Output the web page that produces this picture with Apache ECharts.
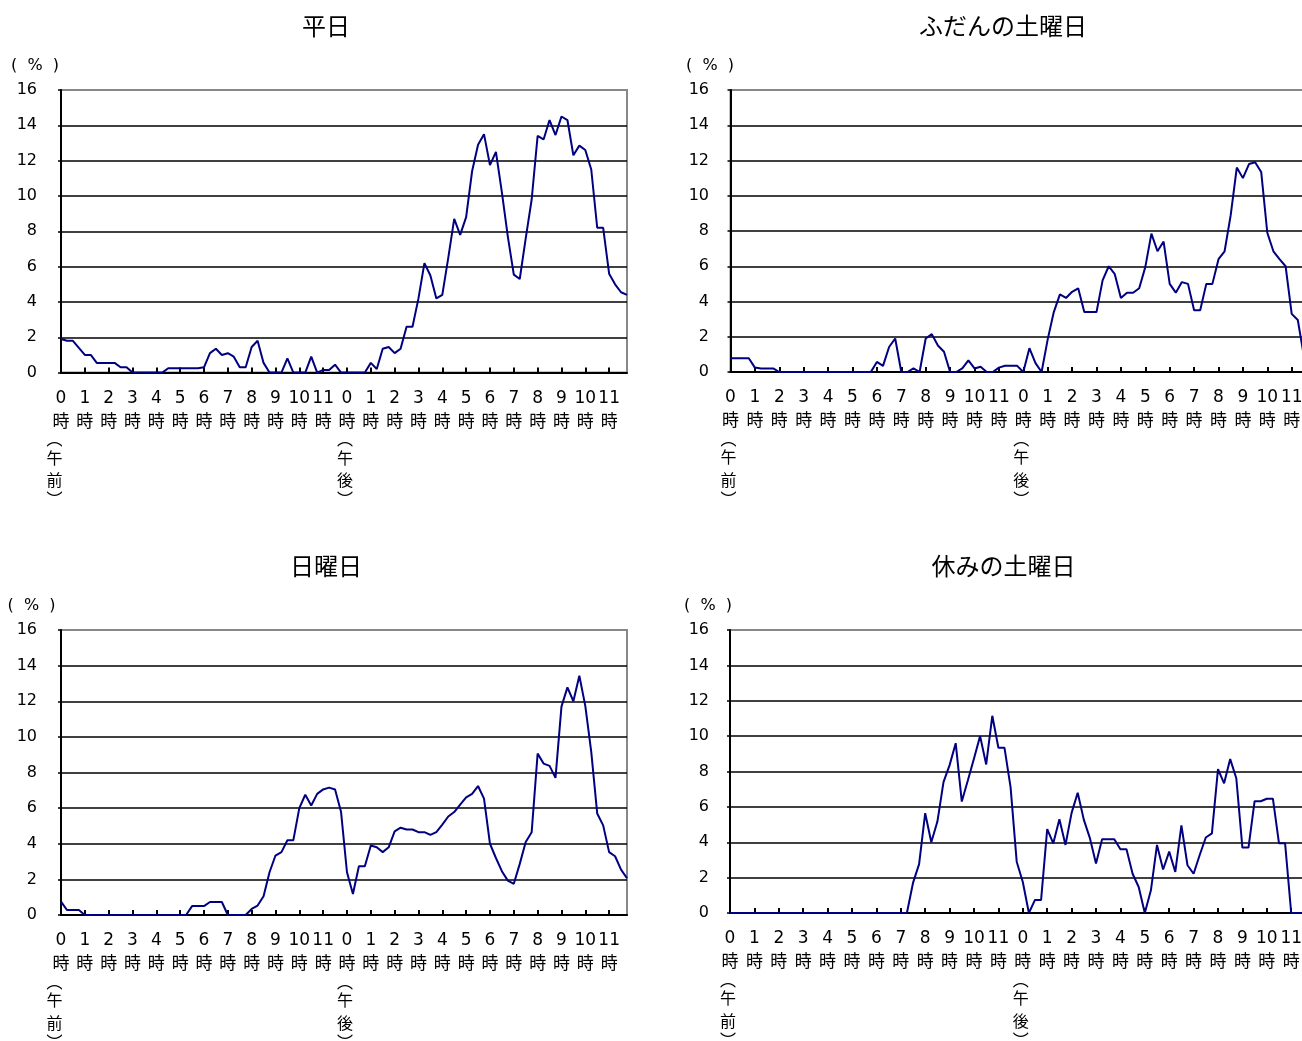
<!DOCTYPE html>
<html><head><meta charset="utf-8">
<script src="https://cdn.jsdelivr.net/npm/echarts@6/dist/echarts.min.js"></script>
<style>html,body{margin:0;padding:0;background:#fff}#c{width:1302px;height:1041px}</style>
</head><body><div id="c"></div><script>
// ---- data ----
const hourLabels = ['0','1','2','3','4','5','6','7','8','9','10','11','0','1','2','3','4','5','6','7','8','9','10','11'];
const periodLabels = {0: ['︵','午','前','︶'], 48: ['︵','午','後','︶']};
const panelTitles = ['平日', 'ふだんの土曜日', '日曜日', '休みの土曜日'];
const unitLabel = '(  %  )';
const yMin = 0, yMax = 16, yStep = 2;

const weekday = [1.9,1.8,1.8,1.4,1.0,1.0,0.55,0.55,0.55,0.55,0.3,0.3,
 0,0,0,0,0,0,0.25,0.25,0.25,0.25,0.25,0.25,
 0.3,1.1,1.35,1.0,1.1,0.9,0.3,0.3,1.45,1.8,0.55,0,
 0,0,0.8,0,0,0,0.9,0,0.15,0.15,0.45,0,
 0,0,0,0,0.55,0.2,1.35,1.45,1.1,1.35,2.6,2.6,
 4.2,6.2,5.5,4.2,4.4,6.5,8.7,7.8,8.8,11.4,12.9,13.5,
 11.75,12.5,10.2,7.7,5.55,5.3,7.6,9.8,13.4,13.2,14.3,13.45,
 14.5,14.3,12.3,12.85,12.6,11.5,8.2,8.2,5.6,5.0,4.55,4.4];

const normalSaturday = [0.78,0.78,0.78,0.78,0.25,0.2,0.2,0.2,0,0,0,0,
 0,0,0,0,0,0,0,0,0,0,0,0,
 0.57,0.35,1.42,1.9,0,0,0.2,0,1.9,2.15,1.5,1.15,
 0,0,0.2,0.66,0.2,0.3,0,0,0.25,0.35,0.35,0.35,
 0,1.35,0.5,0,1.85,3.4,4.4,4.2,4.55,4.75,3.4,3.4,
 3.4,5.2,6.0,5.55,4.2,4.5,4.5,4.75,5.95,7.85,6.85,7.4,
 5.0,4.5,5.1,5.0,3.5,3.5,5.0,5.0,6.4,6.85,8.9,11.6,
 11.0,11.8,11.9,11.35,7.9,6.85,6.4,6.0,3.3,2.95,0.9,0.5];

const sunday = [0.75,0.28,0.28,0.28,0,0,0,0,0,0,0,0,
 0,0,0,0,0,0,0,0,0,0,0.5,0.5,
 0.5,0.73,0.73,0.73,0,0,0,0,0.34,0.53,1.05,2.4,
 3.34,3.53,4.2,4.2,6.0,6.75,6.15,6.8,7.05,7.15,7.05,5.8,
 2.4,1.18,2.74,2.74,3.9,3.8,3.53,3.8,4.7,4.9,4.8,4.8,
 4.65,4.65,4.5,4.65,5.07,5.53,5.78,6.2,6.6,6.8,7.24,6.53,
 4.0,3.2,2.46,1.93,1.75,2.87,4.1,4.65,9.06,8.5,8.37,7.7,
 11.7,12.78,12.0,13.43,11.74,9.16,5.7,5.03,3.53,3.3,2.55,2.06];

const holidaySaturday = [0,0,0,0,0,0,0,0,0,0,0,0,
 0,0,0,0,0,0,0,0,0,0,0,0,
 0,0,0,0,0,0,1.7,2.76,5.64,4.0,5.17,7.4,
 8.36,9.6,6.3,7.5,8.74,10.0,8.4,11.15,9.34,9.34,7.1,2.9,
 1.75,0,0.74,0.74,4.74,3.94,5.3,3.85,5.66,6.8,5.28,4.23,
 2.8,4.17,4.17,4.17,3.6,3.6,2.22,1.47,0,1.28,3.85,2.46,
 3.47,2.32,4.95,2.7,2.22,3.28,4.27,4.5,8.13,7.33,8.7,7.62,
 3.7,3.7,6.32,6.32,6.46,6.46,3.94,3.94,0,0,0,0];

const seriesData = [weekday, normalSaturday, sunday, holidaySaturday];

// 15-minute time slots (categories)
const timeSlots = [];
for (let h = 0; h < 24; h++) for (const m of ['00','15','30','45']) timeSlots.push(h + ':' + m);

// ---- layout ----
const FONT = "'DejaVu Sans', 'Noto Sans CJK JP', sans-serif";
const JP = "'Noto Sans CJK JP', sans-serif";
const grids = [
  {left: 61,  top: 90,  width: 566,   height: 282.6},
  {left: 730.5, top: 90, width: 579.5, height: 282},
  {left: 61,  top: 630, width: 566,   height: 285},
  {left: 730, top: 630, width: 579.5, height: 283}
];
const yLabelMargin = [24, 21.5, 24, 21];
const firstShift = [13, 4, 13, 4];
const titlePos = [[326, 26], [1003, 26], [326, 566], [1003.5, 566]];
const unitPos = [[35, 66], [710, 66], [31.5, 606], [708, 606]];

const splitColors = [];
for (let v = yMin; v <= yMax; v += yStep) splitColors.push(v === yMax ? '#888' : '#000');

function xFormatter(p) {
  return function (value, idx) {
    if (idx % 4) return '';
    let s = '{n|' + hourLabels[idx / 4] + '}\n{j|時}';
    const per = periodLabels[idx];
    if (per) {
      const st = idx === 0 ? 'f' + p : 'b';
      s += '\n{' + st + 'k|' + per[0] + '}\n{' + st + '|' + per[1] + '}\n{' + st + '|' + per[2] + '}\n{' + st + 'k|' + per[3] + '}';
    }
    return s;
  };
}

const option = {
  animation: false,
  backgroundColor: '#fff',
  title: panelTitles.map((t, i) => ({
    text: t, left: titlePos[i][0], top: titlePos[i][1], padding: 0,
    textAlign: 'center', textVerticalAlign: 'middle',
    textStyle: {fontFamily: JP, fontSize: 24, fontWeight: 'normal', color: '#000'}
  })),
  graphic: unitPos.map(p => ({
    type: 'text', x: p[0], y: p[1],
    style: {text: unitLabel, fill: '#000', fontSize: 16, fontFamily: FONT, align: 'center', verticalAlign: 'middle'}
  })),
  grid: grids.map(g => Object.assign({show: true, borderColor: '#888', borderWidth: 2, backgroundColor: '#fff', containLabel: false, outerBoundsMode: 'none'}, g)),
  xAxis: grids.map((g, i) => {
    const rich = {
      n: {fontFamily: FONT, fontSize: 17, lineHeight: 22, color: '#000'},
      j: {fontFamily: JP, fontSize: 17, lineHeight: 22, color: '#000'},
      b: {fontFamily: JP, fontSize: 16, lineHeight: 22.5, color: '#000', padding: [0, 4, 0, 0]},
      bk: {fontFamily: JP, fontSize: 16, lineHeight: 15, color: '#000', padding: [0, 4, 0, 0]}
    };
    rich['f' + i] = {fontFamily: JP, fontSize: 16, lineHeight: 22.5, color: '#000', padding: [0, firstShift[i], 0, 0]};
    rich['f' + i + 'k'] = {fontFamily: JP, fontSize: 16, lineHeight: 15, color: '#000', padding: [0, firstShift[i], 0, 0]};
    return {
      gridIndex: i, type: 'category', data: timeSlots, boundaryGap: false,
      axisLine: {show: true, onZero: false, lineStyle: {color: '#000', width: 2}},
      axisTick: {show: true, inside: true, length: 5, interval: 3, lineStyle: {color: '#000', width: 2}},
      axisLabel: {show: true, interval: 3, margin: 15, color: '#000', showMinLabel: true, hideOverlap: false, formatter: xFormatter(i), rich: rich},
      splitLine: {show: false}
    };
  }),
  yAxis: grids.map((g, i) => ({
    gridIndex: i, type: 'value', min: yMin, max: yMax, interval: yStep,
    axisLine: {show: true, lineStyle: {color: '#000', width: 2}},
    axisTick: {show: true, length: 3, lineStyle: {color: '#000', width: 1.5}},
    axisLabel: {color: '#000', fontSize: 16, fontFamily: FONT, margin: yLabelMargin[i]},
    splitLine: {show: true, lineStyle: {color: splitColors, width: 1.5}}
  })),
  series: seriesData.map((d, i) => ({
    type: 'line', xAxisIndex: i, yAxisIndex: i, data: d,
    showSymbol: false, symbol: 'none',
    lineStyle: {color: '#000080', width: 2},
    itemStyle: {color: '#000080'}
  }))
};

const chart = echarts.init(document.getElementById('c'), null, {renderer: 'canvas'});
chart.setOption(option);
</script></body></html>
